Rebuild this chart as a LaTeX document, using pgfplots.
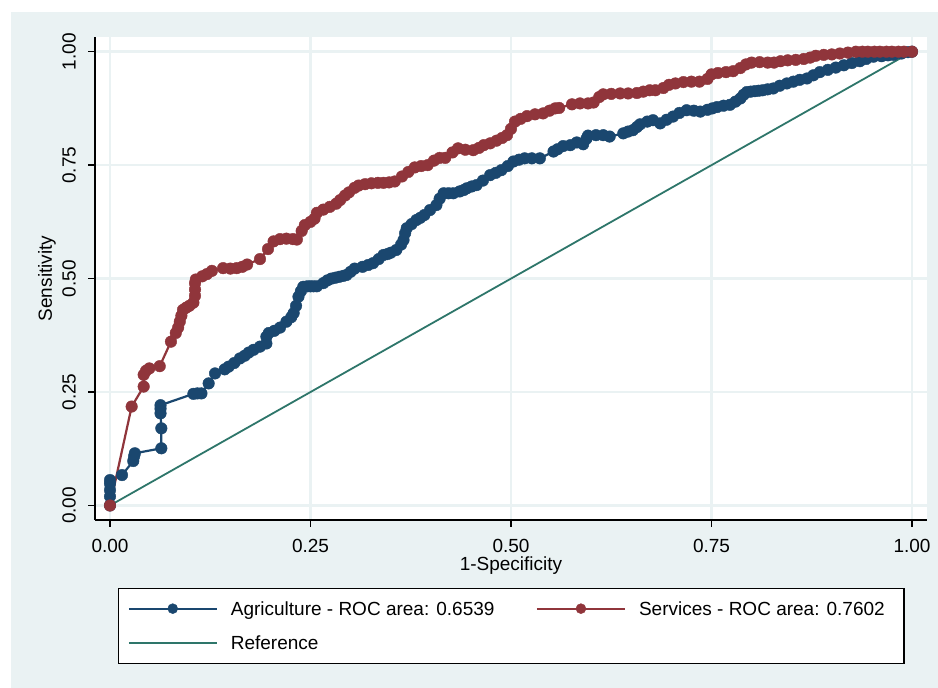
\documentclass[border=0pt]{standalone}
\usepackage{pgfplots}
\pgfplotsset{compat=1.18}
\usepackage{fontspec}
\setmainfont{Liberation Sans}
\definecolor{bgc}{RGB}{234,242,243}
\definecolor{navy}{RGB}{26,71,111}
\definecolor{maroon}{RGB}{144,53,59}
\definecolor{refg}{RGB}{46,118,106}
\newcommand{\ff}{\fontsize{19}{23}\selectfont}
\begin{document}
\ff
\begin{tikzpicture}[x=1pt,y=1pt]
\useasboundingbox (0,0) rectangle (938,688);
\fill[bgc] (11,0) rectangle (938,676);
\begin{axis}[
  at={(95pt,168pt)}, anchor=south west,
  scale only axis, width=832pt, height=483pt,
  xmin=-0.0187, xmax=1.0187, ymin=-0.032, ymax=1.0324,
  axis background/.style={fill=white},
  axis x line*=bottom, axis y line*=left,
  axis line style={black, line width=1.3pt},
  tick align=outside, major tick length=7pt,
  tick style={black, line width=1.3pt},
  xtick={0,0.25,0.5,0.75,1}, xticklabels={0.00,0.25,0.50,0.75,1.00},
  ytick={0,0.25,0.5,0.75,1}, yticklabels={0.00,0.25,0.50,0.75,1.00},
  grid=major, grid style={bgc, line width=2.5pt},
  xticklabel style={font=\ff, anchor=north, inner sep=0pt},
  xticklabel shift=12pt,
  yticklabel style={font=\ff, rotate=90, anchor=south, inner sep=0pt},
  yticklabel shift=12pt,
  xlabel={1-Specificity}, ylabel={Sensitivity},
  xlabel style={font=\ff, at={([yshift=-46pt]axis description cs:0.5,0)}, anchor=center, inner sep=0pt},
  ylabel style={font=\ff, at={([xshift=-48pt]axis description cs:0,0.5)}, anchor=center, inner sep=0pt},
  legend columns=2,
  legend cell align=left,
  legend image code/.code={\draw[mark repeat=2,mark phase=2,#1,mark size=5pt] plot coordinates {(0pt,0.5pt) (44pt,0.5pt) (88pt,0.5pt)};},
  legend style={font=\ff, at={(axis description cs:0,0)}, anchor=north west, xshift=23pt, yshift=-68pt,
    draw=black, line width=1.3pt, fill=white, inner xsep=9pt, inner ysep=11pt, row sep=15pt,
    nodes={inner sep=0pt, text height=16.3pt, text depth=2.7pt},
    /tikz/every odd column/.style={column sep=13pt},
    /tikz/every even column/.style={column sep=49pt}},
]
\addplot[navy, line width=2.2pt, mark=*, mark size=5.8pt, mark options={line width=0.4pt, fill=navy}] coordinates {
(0,0) (0,0.020) (0,0.034) (0,0.048) (0,0.056) (0.015,0.067) (0.029,0.098) (0.030,0.108) (0.031,0.115)
(0.064,0.126) (0.064,0.170) (0.063,0.203) (0.063,0.213) (0.063,0.221) (0.104,0.246) (0.109,0.247)
(0.114,0.247) (0.123,0.269) (0.131,0.291) (0.143,0.300) (0.148,0.306) (0.155,0.314) (0.162,0.324)
(0.168,0.330) (0.173,0.337) (0.179,0.343) (0.187,0.350) (0.195,0.357) (0.195,0.372) (0.198,0.380)
(0.205,0.385) (0.212,0.392) (0.220,0.405) (0.226,0.415) (0.229,0.424) (0.232,0.440) (0.235,0.460)
(0.238,0.472) (0.241,0.482) (0.246,0.483) (0.250,0.483) (0.254,0.483) (0.258,0.483) (0.266,0.490) (0.271,0.496) (0.276,0.500) (0.281,0.502) (0.286,0.504) (0.291,0.506)
(0.295,0.508) (0.300,0.515) (0.305,0.522) (0.315,0.526) (0.322,0.530) (0.328,0.534) (0.335,0.543) (0.341,0.552) (0.346,0.554) (0.350,0.557)
(0.357,0.563) (0.363,0.575) (0.366,0.585) (0.368,0.600) (0.370,0.611) (0.376,0.620) (0.382,0.629)
(0.387,0.634) (0.392,0.640) (0.399,0.651) (0.407,0.662) (0.411,0.676) (0.416,0.688) (0.422,0.688) (0.428,0.688) (0.436,0.692)
(0.441,0.695) (0.445,0.699) (0.451,0.703) (0.457,0.706) (0.465,0.716) (0.474,0.728) (0.481,0.733) (0.488,0.739) (0.496,0.748)
(0.503,0.758) (0.510,0.762) (0.517,0.765) (0.526,0.765) (0.536,0.765) (0.553,0.780) (0.558,0.785) (0.565,0.792)
(0.574,0.794) (0.582,0.800) (0.590,0.796) (0.594,0.808) (0.596,0.815) (0.606,0.816) (0.615,0.816)
(0.623,0.813) (0.640,0.820) (0.646,0.824) (0.652,0.827) (0.657,0.834) (0.661,0.840) (0.670,0.846) (0.677,0.849)
(0.686,0.842) (0.694,0.850) (0.702,0.857) (0.710,0.865) (0.719,0.871) (0.728,0.870) (0.736,0.868)
(0.745,0.872) (0.751,0.875) (0.757,0.878) (0.765,0.881) (0.773,0.883) (0.780,0.890) (0.786,0.897) (0.790,0.905)
(0.794,0.911) (0.799,0.912) (0.804,0.913) (0.809,0.914) (0.814,0.915) (0.820,0.917) (0.827,0.919) (0.835,0.925) (0.844,0.930)
(0.852,0.934) (0.860,0.938) (0.869,0.941) (0.877,0.948) (0.885,0.955) (0.895,0.960) (0.905,0.965)
(0.915,0.970) (0.925,0.975) (0.935,0.979) (0.943,0.984) (0.952,0.989) (0.962,0.990) (0.970,0.992)
(0.977,0.993) (0.987,0.996) (0.995,0.999) (1,1)
};
\addlegendentry{\makebox[256pt][l]{Agriculture - ROC area: 0.6539}}
\addplot[maroon, line width=2.2pt, mark=*, mark size=5.8pt, mark options={line width=0.4pt, fill=maroon}] coordinates {
(0,0) (0.027,0.218) (0.042,0.262) (0.042,0.288) (0.045,0.297) (0.049,0.302) (0.062,0.307) (0.076,0.361)
(0.082,0.380) (0.085,0.392) (0.087,0.405) (0.089,0.418) (0.091,0.431) (0.095,0.436) (0.099,0.440)
(0.104,0.447) (0.106,0.462) (0.106,0.476) (0.106,0.490) (0.107,0.498) (0.115,0.505) (0.121,0.510)
(0.127,0.517) (0.141,0.523) (0.150,0.522) (0.158,0.523) (0.165,0.526) (0.171,0.531) (0.187,0.543)
(0.197,0.565) (0.204,0.582) (0.212,0.587) (0.220,0.588) (0.228,0.587) (0.233,0.586) (0.239,0.605)
(0.243,0.618) (0.250,0.625) (0.255,0.632) (0.258,0.645) (0.266,0.652) (0.274,0.658) (0.282,0.665)
(0.287,0.673) (0.293,0.683) (0.298,0.690) (0.305,0.700) (0.310,0.705) (0.318,0.708) (0.326,0.710)
(0.334,0.711) (0.341,0.711) (0.348,0.712) (0.355,0.714) (0.364,0.725) (0.372,0.735) (0.380,0.745)
(0.388,0.748) (0.396,0.750) (0.404,0.760) (0.411,0.766) (0.418,0.766) (0.427,0.778) (0.434,0.787)
(0.443,0.784) (0.453,0.783) (0.460,0.788) (0.466,0.794) (0.474,0.798) (0.482,0.804) (0.489,0.810)
(0.495,0.816) (0.500,0.830) (0.505,0.846) (0.512,0.852) (0.520,0.858) (0.530,0.862) (0.540,0.864)
(0.548,0.870) (0.555,0.875) (0.560,0.876) (0.576,0.884) (0.586,0.886) (0.596,0.886) (0.603,0.888)
(0.610,0.900) (0.615,0.906) (0.625,0.907) (0.636,0.908) (0.646,0.908) (0.657,0.909) (0.665,0.912)
(0.673,0.915) (0.680,0.915) (0.690,0.920) (0.697,0.927) (0.705,0.930) (0.715,0.933) (0.725,0.934)
(0.735,0.934) (0.745,0.940) (0.750,0.950) (0.758,0.953) (0.768,0.955) (0.777,0.957) (0.786,0.964)
(0.793,0.972) (0.800,0.976) (0.810,0.977) (0.820,0.976) (0.828,0.976) (0.836,0.979) (0.845,0.981)
(0.855,0.982) (0.865,0.984) (0.873,0.987) (0.880,0.991) (0.890,0.993) (0.900,0.994) (0.910,0.996)
(0.920,0.998) (0.930,1.0) (0.938,1.0) (0.945,1.0) (0.953,1.0) (0.960,1.0) (0.968,1.0) (0.975,1.0) (0.983,1.0) (0.990,1.0) (1,1)
};
\addlegendentry{\makebox[256pt][l]{Services - ROC area: 0.7602}}
\addplot[refg, line width=1.8pt] coordinates {(0,0) (1,1)};
\addlegendentry{\makebox[256pt][l]{Reference}}
\end{axis}
\end{tikzpicture}
\end{document}
